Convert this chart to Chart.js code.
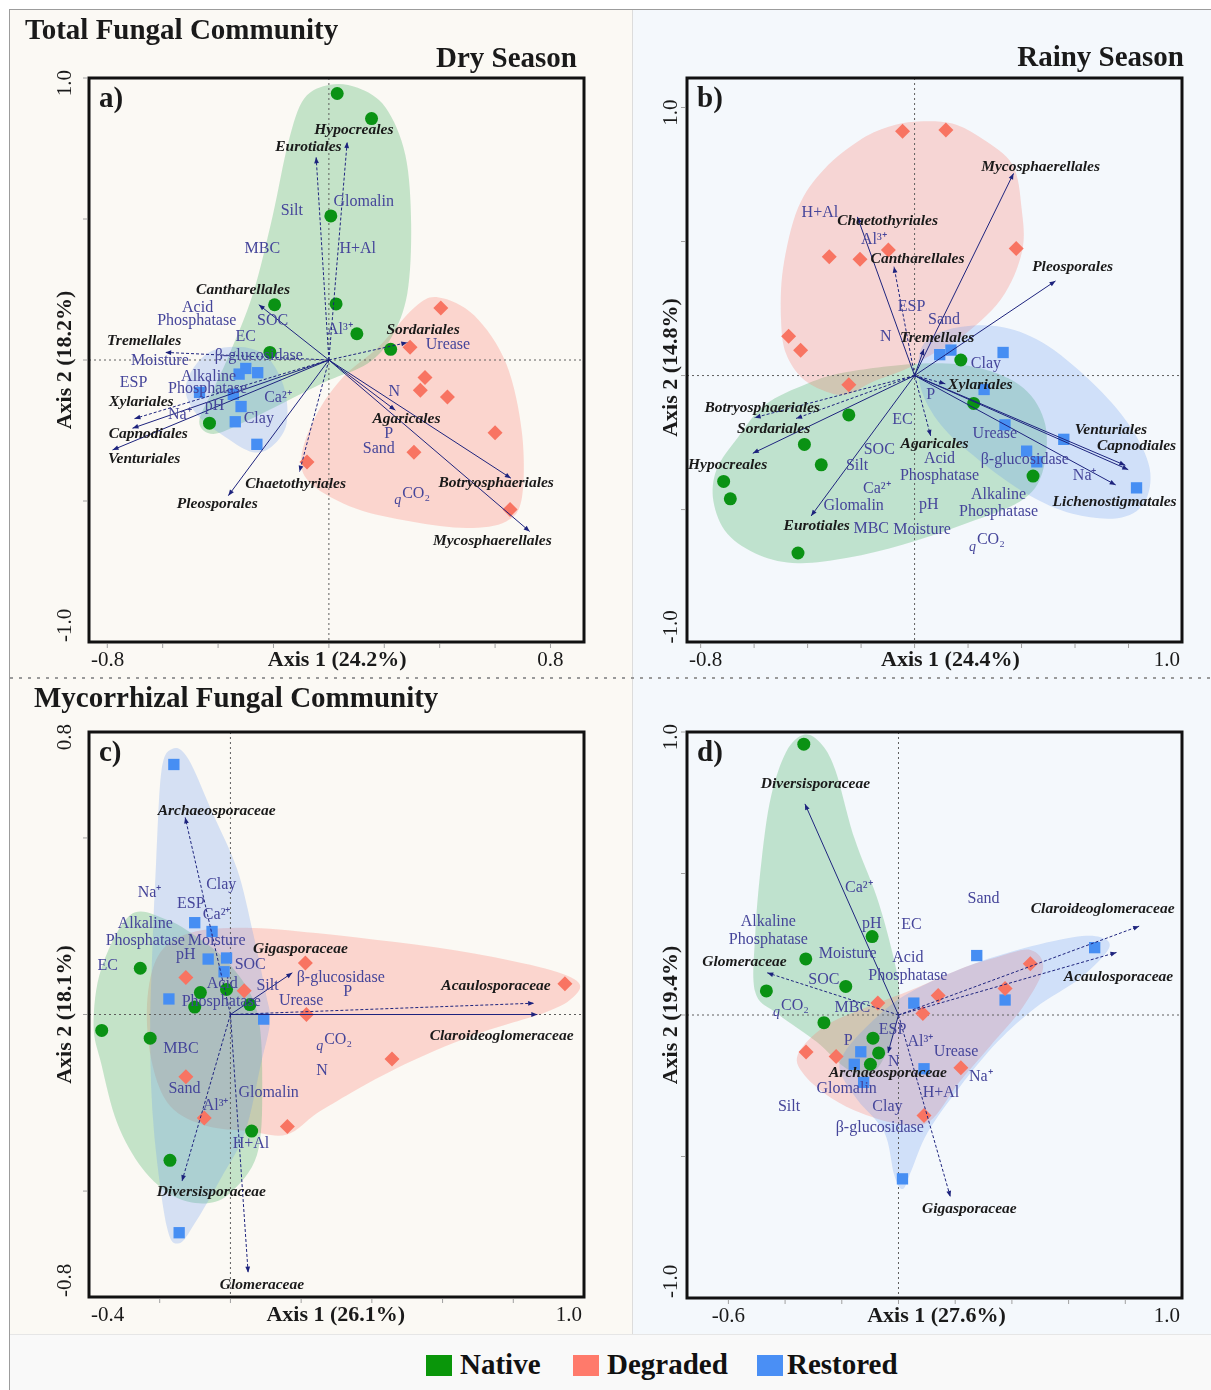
<!DOCTYPE html>
<html>
<head>
<meta charset="utf-8">
<script src="https://cdn.jsdelivr.net/npm/chart.js@4.4.0/dist/chart.umd.min.js"></script>
<style>
  body { margin: 0; width: 1211px; height: 1390px; position: relative; background: #fff; overflow: hidden; font-family: "Liberation Serif", serif; }
  .blk { position: absolute; }
  canvas { position: absolute; }
  .sw { position: absolute; top: 1355px; width: 26px; height: 21px; }
  .lg { position: absolute; top: 1348px; height: 34px; line-height: 34px; font: bold 29px "Liberation Serif", serif; color: #111; }
</style>
</head>
<body>
<div class="blk" style="left:10px;top:10px;width:622px;height:1324px;background:#fbf9f4"></div>
<div class="blk" style="left:633px;top:10px;width:578px;height:1324px;background:#f4f8fc"></div>
<div class="blk" style="left:632px;top:10px;width:1px;height:1324px;background:#dcdcdc"></div>
<div class="blk" style="left:10px;top:677px;width:1201px;height:2px;background:repeating-linear-gradient(to right,#9a9a9a 0 3px,transparent 3px 9px)"></div>
<div class="blk" style="left:10px;top:1334px;width:1201px;height:56px;background:#f9f9f9;border-top:1px solid #e6e6e6"></div>
<div class="blk" style="left:9px;top:9px;width:1202px;height:1381px;border-top:1px solid #9c9c9c;border-left:1px solid #9c9c9c"></div>

<canvas id="pa" width="622" height="667" style="left:10px;top:10px"></canvas>
<canvas id="pb" width="578" height="667" style="left:633px;top:10px"></canvas>
<canvas id="pc" width="622" height="656" style="left:10px;top:678px"></canvas>
<canvas id="pd" width="578" height="656" style="left:633px;top:678px"></canvas>

<div class="sw" style="left:426px;background:#0a960a"></div><div class="lg" style="left:460px">Native</div>
<div class="sw" style="left:573px;background:#ff7a6b"></div><div class="lg" style="left:607px">Degraded</div>
<div class="sw" style="left:757px;background:#4a8ff5"></div><div class="lg" style="left:787px">Restored</div>

<script>
// ---- a) total fungal community, dry season ----
const aNative = [[0.03,0.945],[0.154,0.856],[0.007,0.511],[0.026,0.199],[-0.196,0.196],[0.101,0.093],[0.223,0.038],[-0.213,0.027],[-0.431,-0.224]];
const aDegraded = [[0.404,0.184],[0.293,0.045],[0.347,-0.062],[0.330,-0.107],[0.428,-0.131],[0.600,-0.258],[0.307,-0.327],[-0.079,-0.362],[0.654,-0.530]];
const aRestored = [[-0.300,-0.030],[-0.324,-0.050],[-0.257,-0.045],[-0.467,-0.115],[-0.345,-0.122],[-0.317,-0.165],[-0.338,-0.219],[-0.260,-0.299]];
const aHullNative = [[0.004,0.976],[0.104,0.965],[0.204,0.896],[0.276,0.727],[0.297,0.481],[0.283,0.235],[0.226,0.081],[0.140,-0.012],[-0.003,-0.073],[-0.160,-0.150],[-0.303,-0.219],[-0.417,-0.262],[-0.468,-0.219],[-0.417,-0.104],[-0.360,0.019],[-0.274,0.235],[-0.203,0.511],[-0.146,0.773],[-0.089,0.927]];
const aHullDegraded = [[0.397,0.222],[0.525,0.158],[0.640,-0.012],[0.697,-0.258],[0.697,-0.488],[0.640,-0.573],[0.497,-0.596],[0.297,-0.573],[0.097,-0.527],[-0.060,-0.442],[-0.100,-0.350],[-0.046,-0.196],[0.054,-0.058],[0.183,0.050],[0.311,0.188]];
const aHullRestored = [[-0.417,0.035],[-0.303,0.045],[-0.217,0.004],[-0.160,-0.104],[-0.153,-0.227],[-0.203,-0.304],[-0.274,-0.327],[-0.374,-0.273],[-0.474,-0.196],[-0.517,-0.111],[-0.488,-0.027]];
const aTaxa = ['Hypocreales','Eurotiales','Cantharellales','Tremellales','Xylariales','Capnodiales','Venturiales','Pleosporales','Chaetothyriales','Sordariales','Agaricales','Botryosphaeriales','Mycosphaerellales'];
const aTaxaTip = [[0.066,0.773],[-0.046,0.719],[-0.253,0.196],[-0.591,0.027],[-0.702,-0.208],[-0.709,-0.242],[-0.781,-0.319],[-0.363,-0.481],[-0.106,-0.396],[0.283,0.062],[0.240,-0.178],[0.657,-0.419],[0.725,-0.608]];
const aTaxaDashed = [1,1,0,1,1,0,0,0,1,1,0,0,0];
const aTaxaAt = [[0.090,0.814],[-0.074,0.757],[-0.310,0.248],[-0.667,0.067],[-0.677,-0.150],[-0.652,-0.261],[-0.667,-0.350],[-0.403,-0.511],[-0.120,-0.439],[0.340,0.107],[0.280,-0.208],[0.604,-0.437],[0.590,-0.642]];
const aSoil = ['Silt','Glomalin','MBC','H+Al','Acid','Phosphatase','SOC','EC','Al³⁺','Moisture','β-glucosidase','Urease','ESP','Alkaline','Phosphatase','Ca²⁺','Na⁺','pH','Clay','N','P','Sand','qCO₂'];
const aSoilAt = [[-0.134,0.530],[0.126,0.561],[-0.240,0.396],[0.104,0.396],[-0.474,0.185],[-0.477,0.139],[-0.203,0.139],[-0.300,0.081],[0.040,0.107],[-0.610,-0.002],[-0.253,0.016],[0.430,0.053],[-0.705,-0.081],[-0.434,-0.058],[-0.438,-0.101],[-0.184,-0.135],[-0.538,-0.193],[-0.413,-0.162],[-0.253,-0.208],[0.236,-0.111],[0.216,-0.261],[0.180,-0.314],[0.304,-0.473]];

// ---- b) total fungal community, rainy season ----
const bNative = [[0.173,0.058],[0.221,-0.104],[-0.246,-0.147],[-0.412,-0.257],[-0.349,-0.333],[0.443,-0.375],[-0.714,-0.395],[-0.689,-0.460],[-0.436,-0.662]];
const bDegraded = [[-0.045,0.911],[0.117,0.916],[-0.098,0.468],[0.380,0.474],[-0.319,0.443],[-0.204,0.434],[-0.471,0.147],[-0.426,0.094],[-0.246,-0.034]];
const bRestored = [[0.094,0.078],[0.136,0.095],[0.331,0.086],[0.260,-0.052],[0.338,-0.184],[0.419,-0.282],[0.457,-0.322],[0.558,-0.238],[0.830,-0.419]];
const bHullNative = [[-0.660,-0.230],[-0.560,-0.110],[-0.400,-0.030],[-0.253,0.013],[0.028,0.045],[0.239,0.029],[0.408,-0.047],[0.489,-0.184],[0.478,-0.362],[0.394,-0.470],[0.169,-0.560],[-0.042,-0.630],[-0.250,-0.680],[-0.436,-0.700],[-0.580,-0.670],[-0.700,-0.590],[-0.752,-0.470],[-0.740,-0.350]];
const bHullDegraded = [[0.014,0.948],[0.141,0.940],[0.253,0.883],[0.366,0.786],[0.400,0.625],[0.402,0.463],[0.323,0.285],[0.169,0.139],[0.056,0.074],[-0.028,0.026],[-0.160,-0.025],[-0.250,-0.070],[-0.330,-0.060],[-0.420,-0.010],[-0.480,0.080],[-0.499,0.200],[-0.492,0.398],[-0.436,0.625],[-0.338,0.770],[-0.197,0.883],[-0.084,0.932]];
const bHullRestored = [[0.028,0.107],[0.127,0.172],[0.309,0.184],[0.478,0.123],[0.661,-0.023],[0.802,-0.184],[0.879,-0.346],[0.858,-0.476],[0.759,-0.532],[0.591,-0.516],[0.422,-0.443],[0.239,-0.314],[0.098,-0.184],[0.021,-0.039]];
const bTaxa = ['Mycosphaerellales','Chaetothyriales','Cantharellales','Pleosporales','Tremellales','Xylariales','Botryosphaeriales','Sordariales','Hypocreales','Agaricales','Eurotiales','Venturiales','Capnodiales','Lichenostigmatales'];
const bTaxaTip = [[0.370,0.754],[-0.214,0.592],[-0.077,0.406],[0.527,0.353],[0.035,0.099],[0.115,-0.031],[-0.598,-0.157],[-0.443,-0.160],[-0.605,-0.290],[0.060,-0.225],[-0.387,-0.524],[0.788,-0.335],[0.799,-0.351],[0.752,-0.408]];
const bTaxaDashed = [0,0,1,0,0,1,1,1,0,1,0,0,0,0];
const bTaxaAt = [[0.471,0.778],[-0.101,0.576],[0.011,0.434],[0.591,0.406],[0.084,0.139],[0.246,-0.036],[-0.570,-0.120],[-0.527,-0.201],[-0.699,-0.333],[0.075,-0.254],[-0.366,-0.561],[0.734,-0.204],[0.830,-0.262],[0.748,-0.471]];
const bSoil = ['H+Al','Al³⁺','ESP','Sand','N','Clay','P','EC','Urease','SOC','Acid','β-glucosidase','Silt','Phosphatase','Na⁺','Ca²⁺','Alkaline','Glomalin','pH','Phosphatase','MBC','Moisture','qCO₂'];
const bSoilAt = [[-0.354,0.608],[-0.152,0.508],[-0.011,0.257],[0.110,0.209],[-0.108,0.144],[0.267,0.045],[0.060,-0.071],[-0.045,-0.165],[0.300,-0.217],[-0.132,-0.277],[0.093,-0.309],[0.412,-0.314],[-0.215,-0.338],[0.093,-0.374],[0.636,-0.374],[-0.141,-0.424],[0.314,-0.443],[-0.228,-0.485],[0.053,-0.481],[0.314,-0.508],[-0.162,-0.573],[0.028,-0.576],[0.274,-0.613]];

// ---- c) mycorrhizal fungal community, dry season ----
const cNative = [[-0.255,0.131],[-0.085,0.062],[-0.011,0.071],[-0.101,0.021],[0.055,0.028],[-0.364,-0.045],[-0.227,-0.067],[0.060,-0.330],[-0.171,-0.413]];
const cDegraded = [[0.212,0.146],[-0.126,0.105],[0.039,0.067],[0.946,0.087],[0.215,0.000],[0.457,-0.126],[-0.126,-0.176],[-0.074,-0.293],[0.161,-0.317]];
const cRestored = [[-0.160,0.708],[-0.101,0.260],[-0.052,0.235],[-0.063,0.157],[-0.011,0.160],[-0.018,0.121],[-0.174,0.044],[0.094,-0.013],[-0.145,-0.618]];
const cHullNative = [[-0.283,0.282],[-0.182,0.269],[-0.093,0.218],[0.000,0.140],[0.075,0.010],[0.090,-0.205],[0.075,-0.398],[0.000,-0.505],[-0.070,-0.535],[-0.160,-0.515],[-0.249,-0.436],[-0.320,-0.308],[-0.365,-0.141],[-0.387,-0.030],[-0.365,0.130]];
const cHullDegraded = [[-0.204,0.167],[-0.115,0.231],[0.041,0.246],[0.242,0.231],[0.466,0.205],[0.689,0.173],[0.890,0.130],[0.985,0.090],[0.965,0.045],[0.890,0.006],[0.689,-0.058],[0.466,-0.154],[0.260,-0.270],[0.160,-0.340],[0.050,-0.330],[-0.070,-0.315],[-0.170,-0.260],[-0.221,-0.141],[-0.236,0.026]];
const cHullRestored = [[-0.165,0.752],[-0.120,0.725],[-0.048,0.565],[0.019,0.411],[0.064,0.231],[0.100,0.060],[0.112,-0.020],[0.086,-0.141],[0.041,-0.334],[-0.026,-0.462],[-0.100,-0.590],[-0.145,-0.648],[-0.180,-0.600],[-0.216,-0.334],[-0.227,-0.077],[-0.221,0.180],[-0.210,0.436],[-0.195,0.690]];
const cTaxa = ['Archaeosporaceae','Gigasporaceae','Acaulosporaceae','Claroideoglomeraceae','Diversisporaceae','Glomeraceae'];
const cTaxaTip = [[-0.128,0.558],[0.175,0.118],[0.859,0.032],[0.868,0.000],[-0.137,-0.472],[0.050,-0.731]];
const cTaxaDashed = [1,0,1,0,1,1];
const cTaxaAt = [[-0.039,0.577],[0.198,0.186],[0.751,0.080],[0.767,-0.062],[-0.054,-0.504],[0.089,-0.766]];
const cSoil = ['Clay','Na⁺','ESP','Ca²⁺','Alkaline','Phosphatase','Moisture','pH','EC','SOC','β-glucosidase','Acid','Silt','P','Phosphatase','Urease','qCO₂','MBC','N','Sand','Glomalin','Al³⁺','H+Al'];
const cSoilAt = [[-0.026,0.366],[-0.229,0.344],[-0.112,0.314],[-0.039,0.282],[-0.241,0.257],[-0.241,0.208],[-0.039,0.208],[-0.126,0.169],[-0.347,0.139],[0.056,0.141],[0.312,0.105],[-0.023,0.087],[0.105,0.080],[0.332,0.064],[-0.026,0.035],[0.200,0.038],[0.296,-0.071],[-0.140,-0.096],[0.259,-0.160],[-0.130,-0.209],[0.108,-0.222],[-0.042,-0.259],[0.058,-0.366]];

// ---- d) mycorrhizal fungal community, rainy season ----
const dNative = [[-0.334,0.957],[-0.093,0.277],[-0.327,0.198],[-0.186,0.101],[-0.466,0.085],[-0.263,-0.027],[-0.090,-0.082],[-0.070,-0.134],[-0.099,-0.174]];
const dDegraded = [[0.465,0.181],[0.376,0.094],[0.140,0.069],[-0.073,0.042],[0.086,0.005],[-0.326,-0.131],[-0.220,-0.147],[0.220,-0.186],[0.090,-0.355]];
const dRestored = [[0.692,0.238],[0.276,0.210],[0.376,0.053],[0.054,0.042],[-0.133,-0.130],[-0.156,-0.174],[0.090,-0.190],[-0.123,-0.238],[0.014,-0.579]];
const dHullNative = [[-0.334,0.990],[-0.276,0.962],[-0.223,0.866],[-0.156,0.626],[-0.077,0.418],[-0.023,0.226],[0.003,0.082],[-0.010,-0.046],[-0.050,-0.150],[-0.103,-0.210],[-0.183,-0.190],[-0.290,-0.094],[-0.423,0.002],[-0.505,0.080],[-0.505,0.290],[-0.483,0.546],[-0.450,0.770],[-0.396,0.930]];
const dHullDegraded = [[-0.355,-0.140],[-0.260,-0.040],[-0.117,0.026],[0.030,0.082],[0.216,0.162],[0.350,0.205],[0.465,0.230],[0.510,0.165],[0.440,0.030],[0.323,-0.110],[0.216,-0.235],[0.110,-0.375],[0.003,-0.385],[-0.130,-0.347],[-0.236,-0.294],[-0.330,-0.215]];
const dHullRestored = [[-0.196,-0.142],[-0.117,-0.046],[0.017,0.066],[0.216,0.162],[0.416,0.229],[0.616,0.275],[0.712,0.275],[0.742,0.235],[0.640,0.130],[0.483,0.026],[0.350,-0.094],[0.216,-0.254],[0.103,-0.414],[0.045,-0.550],[0.015,-0.615],[-0.015,-0.565],[-0.050,-0.414],[-0.143,-0.302],[-0.203,-0.206]];
const dTaxa = ['Diversisporaceae','Glomeraceae','Claroideoglomeraceae','Acaulosporaceae','Gigasporaceae','Archaeosporaceae'];
const dTaxaTip = [[-0.330,0.746],[-0.463,0.149],[0.849,0.314],[0.769,0.221],[0.183,-0.643],[-0.037,-0.134]];
const dTaxaDashed = [0,1,1,1,1,0];
const dTaxaAt = [[-0.293,0.818],[-0.543,0.186],[0.720,0.373],[0.776,0.134],[0.250,-0.687],[-0.037,-0.206]];
const dSoil = ['Ca²⁺','Sand','Alkaline','pH','EC','Phosphatase','Moisture','Acid','SOC','Phosphatase','qCO₂','MBC','ESP','P','Al³⁺','Urease','N','Na⁺','Glomalin','H+Al','Silt','Clay','β-glucosidase'];
const dSoilAt = [[-0.140,0.450],[0.300,0.410],[-0.459,0.330],[-0.094,0.322],[0.046,0.317],[-0.459,0.266],[-0.179,0.218],[0.033,0.202],[-0.263,0.125],[0.033,0.138],[-0.376,0.034],[-0.163,0.026],[-0.021,-0.051],[-0.177,-0.090],[0.077,-0.094],[0.203,-0.130],[-0.017,-0.166],[0.290,-0.219],[-0.183,-0.262],[0.150,-0.275],[-0.386,-0.326],[-0.039,-0.326],[-0.066,-0.398]];

// colours
const NATIVE = '#0a9214', DEGRADED = '#f87462', RESTORED = '#468ef3';
const HULL_N = 'rgba(80,180,110,0.32)', HULL_D = 'rgba(250,120,105,0.27)', HULL_R = 'rgba(100,150,240,0.25)';
const ARROW = '#1d237d', SOIL = '#45459a', TAXA = '#1a1a1a';
const SERIF = '"Liberation Serif", "Times New Roman", serif';

function toPx(chart, p) {
    return [chart.scales.x.getPixelForValue(p[0]), chart.scales.y.getPixelForValue(p[1])];
}

// closed catmull-rom curve through the outline points
function blob(ctx, pts) {
    const n = pts.length;
    ctx.beginPath();
    ctx.moveTo(pts[0][0], pts[0][1]);
    for (let i = 0; i < n; i++) {
        const p0 = pts[(i - 1 + n) % n], p1 = pts[i], p2 = pts[(i + 1) % n], p3 = pts[(i + 2) % n];
        ctx.bezierCurveTo(
            p1[0] + (p2[0] - p0[0]) / 6, p1[1] + (p2[1] - p0[1]) / 6,
            p2[0] - (p3[0] - p1[0]) / 6, p2[1] - (p3[1] - p1[1]) / 6,
            p2[0], p2[1]);
    }
    ctx.closePath();
}

function arrow(ctx, x0, y0, x1, y1, dashed) {
    ctx.save();
    ctx.strokeStyle = ARROW;
    ctx.fillStyle = ARROW;
    ctx.lineWidth = 1;
    ctx.setLineDash(dashed ? [3, 2] : []);
    ctx.beginPath();
    ctx.moveTo(x0, y0);
    ctx.lineTo(x1, y1);
    ctx.stroke();
    ctx.setLineDash([]);
    const a = Math.atan2(y1 - y0, x1 - x0), L = 6, W = 2.4;
    ctx.beginPath();
    ctx.moveTo(x1, y1);
    ctx.lineTo(x1 - L * Math.cos(a) + W * Math.sin(a), y1 - L * Math.sin(a) - W * Math.cos(a));
    ctx.lineTo(x1 - L * Math.cos(a) - W * Math.sin(a), y1 - L * Math.sin(a) + W * Math.cos(a));
    ctx.closePath();
    ctx.fill();
    ctx.restore();
}

function soilText(ctx, text, x, y) {
    ctx.fillStyle = SOIL;
    ctx.textBaseline = 'middle';
    ctx.font = '16px ' + SERIF;
    if (text === 'qCO₂') {
        const w = ctx.measureText('CO₂').width;
        ctx.textAlign = 'left';
        ctx.fillText('CO₂', x - w / 2 + 3, y);
        ctx.font = 'italic 14px ' + SERIF;
        ctx.textAlign = 'right';
        ctx.fillText('q', x - w / 2 + 2, y + 7);
        return;
    }
    ctx.textAlign = 'center';
    ctx.fillText(text, x, y);
}

function biplotPlugin(cfg) {
    return {
        id: 'biplot',
        beforeDatasetsDraw(chart) {
            const ctx = chart.ctx, area = chart.chartArea;
            ctx.save();
            cfg.hulls.forEach(([pts, fill]) => {
                blob(ctx, pts.map(p => toPx(chart, p)));
                ctx.fillStyle = fill;
                ctx.fill();
            });
            const x0 = chart.scales.x.getPixelForValue(0), y0 = chart.scales.y.getPixelForValue(0);
            ctx.strokeStyle = '#5e5e5e';
            ctx.lineWidth = 1;
            ctx.setLineDash([2, 3]);
            ctx.beginPath();
            ctx.moveTo(x0, area.top); ctx.lineTo(x0, area.bottom);
            ctx.moveTo(area.left, y0); ctx.lineTo(area.right, y0);
            ctx.stroke();
            ctx.restore();
        },
        afterDatasetsDraw(chart) {
            const ctx = chart.ctx;
            const [ox, oy] = toPx(chart, [0, 0]);
            cfg.tips.forEach((t, i) => {
                const [x, y] = toPx(chart, t);
                arrow(ctx, ox, oy, x, y, cfg.dashed[i]);
            });
            ctx.save();
            cfg.soil.forEach((s, i) => {
                const [x, y] = toPx(chart, cfg.soilAt[i]);
                soilText(ctx, s, x, y);
            });
            ctx.font = 'bold italic 15.5px ' + SERIF;
            ctx.fillStyle = TAXA;
            ctx.textAlign = 'center';
            ctx.textBaseline = 'middle';
            cfg.taxa.forEach((s, i) => {
                const [x, y] = toPx(chart, cfg.taxaAt[i]);
                ctx.fillText(s, x, y);
            });
            ctx.restore();
        },
        afterDraw(chart) {
            const ctx = chart.ctx, a = chart.chartArea;
            const sx = chart.scales.x, sy = chart.scales.y;
            ctx.save();
            // small ticks
            ctx.strokeStyle = '#a0a0a0';
            ctx.lineWidth = 1;
            ctx.beginPath();
            for (let v = -2; v <= 2.001; v += 0.2) {
                const p = sx.getPixelForValue(v);
                if (p > a.left + 2 && p < a.right - 2) { ctx.moveTo(p, a.bottom + 2); ctx.lineTo(p, a.bottom + 6); }
            }
            for (let v = -1; v <= 1.001; v += 0.5) {
                const p = sy.getPixelForValue(v);
                if (p > a.top - 1 && p < a.bottom - 2) { ctx.moveTo(a.left - 2, p); ctx.lineTo(a.left - 6, p); }
            }
            ctx.stroke();
            // frame
            ctx.strokeStyle = '#111';
            ctx.lineWidth = 3;
            ctx.strokeRect(a.left, a.top, a.right - a.left, a.bottom - a.top);
            // x tick labels and title
            ctx.fillStyle = '#1a1a1a';
            ctx.textBaseline = 'middle';
            ctx.textAlign = 'center';
            ctx.font = '21px ' + SERIF;
            cfg.xTicks.forEach(v => {
                const s = v.toFixed(1), w = ctx.measureText(s).width;
                const p = Math.min(Math.max(sx.getPixelForValue(v), a.left + w / 2 + 2), a.right - w / 2 - 2);
                ctx.fillText(s, p, a.bottom + 18);
            });
            ctx.font = 'bold 22px ' + SERIF;
            ctx.fillText(cfg.xTitle, sx.getPixelForValue(cfg.xTitleAt), a.bottom + 18);
            // y tick labels and title, rotated
            const yx = a.left - cfg.yGap;
            ctx.font = '21px ' + SERIF;
            cfg.yTicks.forEach(v => {
                const p = sy.getPixelForValue(v);
                ctx.save();
                ctx.translate(yx, v > 0 ? p - 8 : p);
                ctx.rotate(-Math.PI / 2);
                ctx.textAlign = v > 0 ? 'right' : 'left';
                ctx.fillText(v.toFixed(1), 0, 0);
                ctx.restore();
            });
            ctx.save();
            ctx.translate(yx, sy.getPixelForValue(cfg.yTitleAt));
            ctx.rotate(-Math.PI / 2);
            ctx.font = 'bold 22px ' + SERIF;
            ctx.textAlign = 'center';
            ctx.fillText(cfg.yTitle, 0, 0);
            ctx.restore();
            // panel letter
            ctx.font = 'bold 29px ' + SERIF;
            ctx.textAlign = 'left';
            ctx.fillText(cfg.letter, a.left + 10, a.top + 22);
            // headings
            cfg.heads.forEach(h => {
                ctx.textAlign = h.align;
                ctx.fillText(h.text, h.x, h.y);
            });
            ctx.restore();
        }
    };
}

function points(label, pts, color, style, r) {
    return {
        label: label,
        data: pts.map(p => ({ x: p[0], y: p[1] })),
        pointStyle: style,
        pointRadius: r,
        backgroundColor: color,
        borderColor: color,
        borderWidth: 0
    };
}

function makePanel(cfg) {
    new Chart(document.getElementById(cfg.canvas), {
        type: 'scatter',
        data: {
            datasets: [
                points('Native', cfg.native, NATIVE, 'circle', 6.5),
                points('Degraded', cfg.degraded, DEGRADED, 'rectRot', 7.5),
                points('Restored', cfg.restored, RESTORED, 'rect', 8)
            ]
        },
        options: {
            responsive: false,
            animation: false,
            events: [],
            layout: { padding: cfg.pad },
            plugins: { legend: { display: false }, tooltip: { enabled: false } },
            scales: {
                x: { type: 'linear', min: cfg.xr[0], max: cfg.xr[1], display: false },
                y: { type: 'linear', min: cfg.yr[0], max: cfg.yr[1], display: false }
            }
        },
        plugins: [biplotPlugin(cfg)]
    });
}

makePanel({
    canvas: 'pa', pad: { left: 79, right: 48, top: 68, bottom: 35 }, xr: [-0.866, 0.921], yr: [-1, 1],
    xTicks: [-0.8, 0.8], yTicks: [1, -1], xTitle: 'Axis 1 (24.2%)', xTitleAt: 0.03, yTitle: 'Axis 2 (18.2%)', yTitleAt: 0, yGap: 24, letter: 'a)',
    native: aNative, degraded: aDegraded, restored: aRestored,
    hulls: [[aHullDegraded, HULL_D], [aHullNative, HULL_N], [aHullRestored, HULL_R]],
    tips: aTaxaTip, dashed: aTaxaDashed, taxa: aTaxa, taxaAt: aTaxaAt, soil: aSoil, soilAt: aSoilAt,
    heads: [{ text: 'Total Fungal Community', x: 15, y: 22, align: 'left' }, { text: 'Dry Season', x: 567, y: 50, align: 'right' }]
});
makePanel({
    canvas: 'pb', pad: { left: 54, right: 29, top: 68, bottom: 35 }, xr: [-0.851, 1.0], yr: [-0.994, 1.11],
    xTicks: [-0.8, 1.0], yTicks: [1, -1], xTitle: 'Axis 1 (24.4%)', xTitleAt: 0.134, yTitle: 'Axis 2 (14.8%)', yTitleAt: 0.03, yGap: 16, letter: 'b)',
    native: bNative, degraded: bDegraded, restored: bRestored,
    hulls: [[bHullNative, HULL_N], [bHullDegraded, HULL_D], [bHullRestored, HULL_R]],
    tips: bTaxaTip, dashed: bTaxaDashed, taxa: bTaxa, taxaAt: bTaxaAt, soil: bSoil, soilAt: bSoilAt,
    heads: [{ text: 'Rainy Season', x: 551, y: 49, align: 'right' }]
});
makePanel({
    canvas: 'pc', pad: { left: 79, right: 48, top: 54, bottom: 37 }, xr: [-0.4, 1.0], yr: [-0.8, 0.8],
    xTicks: [-0.4, 1.0], yTicks: [0.8, -0.8], xTitle: 'Axis 1 (26.1%)', xTitleAt: 0.298, yTitle: 'Axis 2 (18.1%)', yTitleAt: 0, yGap: 24, letter: 'c)',
    native: cNative, degraded: cDegraded, restored: cRestored,
    hulls: [[cHullDegraded, HULL_D], [cHullNative, HULL_N], [cHullRestored, HULL_R]],
    tips: cTaxaTip, dashed: cTaxaDashed, taxa: cTaxa, taxaAt: cTaxaAt, soil: cSoil, soilAt: cSoilAt,
    heads: [{ text: 'Mycorrhizal Fungal Community', x: 24, y: 22, align: 'left' }]
});
makePanel({
    canvas: 'pd', pad: { left: 54, right: 29, top: 54, bottom: 36 }, xr: [-0.746, 1.0], yr: [-1, 1],
    xTicks: [-0.6, 1.0], yTicks: [1, -1], xTitle: 'Axis 1 (27.6%)', xTitleAt: 0.134, yTitle: 'Axis 2 (19.4%)', yTitleAt: 0, yGap: 16, letter: 'd)',
    native: dNative, degraded: dDegraded, restored: dRestored,
    hulls: [[dHullNative, HULL_N], [dHullDegraded, HULL_D], [dHullRestored, HULL_R]],
    tips: dTaxaTip, dashed: dTaxaDashed, taxa: dTaxa, taxaAt: dTaxaAt, soil: dSoil, soilAt: dSoilAt,
    heads: []
});
</script>
</body>
</html>
